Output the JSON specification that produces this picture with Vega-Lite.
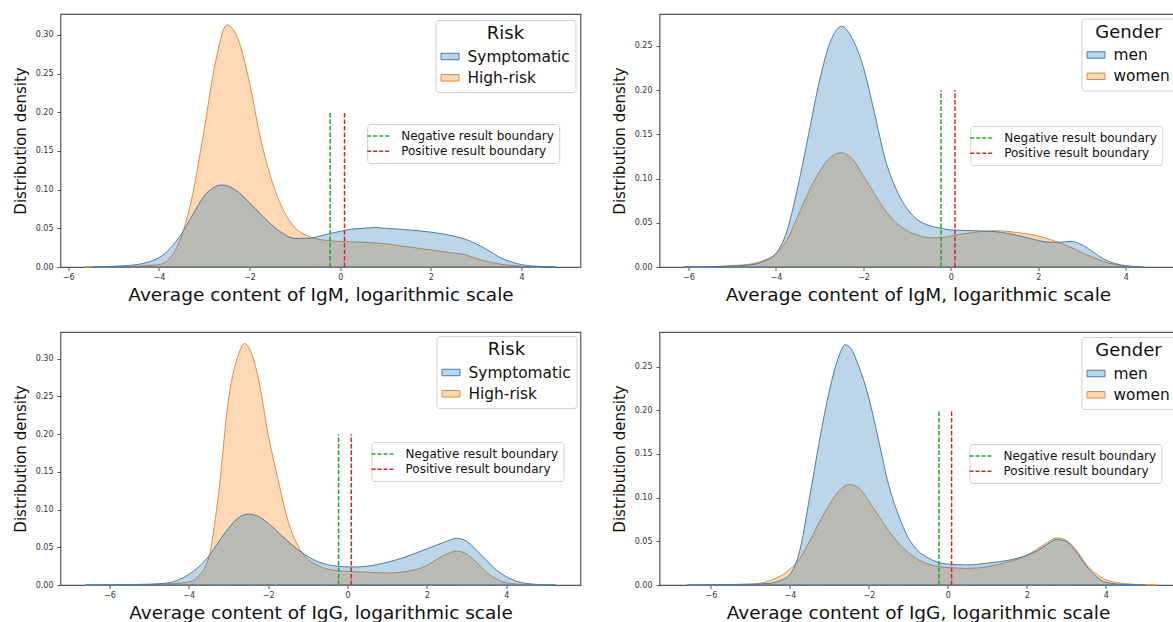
{
  "$schema": "https://vega.github.io/schema/vega-lite/v6.json",
  "background": "white",
  "padding": {"left": 11.5, "top": 13, "right": 0, "bottom": 0},
  "config": {
    "font": "DejaVu Sans",
    "view": {"stroke": "#555555", "strokeWidth": 1.2},
    "axis": {"grid": false, "domain": false, "tickColor": "#555555", "tickSize": 3.5, "tickWidth": 1, "labelFont": "DejaVu Sans", "labelFontSize": 8, "labelColor": "#333333", "titleFont": "DejaVu Sans", "titleFontWeight": "normal", "titleColor": "#111111"},
    "legend": {"labelFont": "DejaVu Sans", "titleFont": "DejaVu Sans", "labelColor": "#111111", "titleColor": "#111111", "strokeColor": "#d0d0d0", "fillColor": "white", "cornerRadius": 3}
  },
  "datasets": {
    "igm_risk": [
      {"group": "High-risk", "x": -5.65, "d": 0}, {"group": "High-risk", "x": -5.0, "d": 0.0005}, {"group": "High-risk", "x": -4.5, "d": 0.001}, {"group": "High-risk", "x": -4.25, "d": 0.002}, {"group": "High-risk", "x": -4.0, "d": 0.003}, {"group": "High-risk", "x": -3.75, "d": 0.012}, {"group": "High-risk", "x": -3.5, "d": 0.04}, {"group": "High-risk", "x": -3.25, "d": 0.095}, {"group": "High-risk", "x": -3.0, "d": 0.178}, {"group": "High-risk", "x": -2.75, "d": 0.265}, {"group": "High-risk", "x": -2.5, "d": 0.313}, {"group": "High-risk", "x": -2.25, "d": 0.294}, {"group": "High-risk", "x": -2.0, "d": 0.238}, {"group": "High-risk", "x": -1.75, "d": 0.164}, {"group": "High-risk", "x": -1.5, "d": 0.11}, {"group": "High-risk", "x": -1.25, "d": 0.073}, {"group": "High-risk", "x": -1.0, "d": 0.051}, {"group": "High-risk", "x": -0.75, "d": 0.041}, {"group": "High-risk", "x": -0.5, "d": 0.036}, {"group": "High-risk", "x": -0.25, "d": 0.034}, {"group": "High-risk", "x": 0.0, "d": 0.033}, {"group": "High-risk", "x": 0.5, "d": 0.032}, {"group": "High-risk", "x": 1.0, "d": 0.03}, {"group": "High-risk", "x": 1.5, "d": 0.026}, {"group": "High-risk", "x": 2.0, "d": 0.022}, {"group": "High-risk", "x": 2.5, "d": 0.018}, {"group": "High-risk", "x": 2.75, "d": 0.016}, {"group": "High-risk", "x": 3.0, "d": 0.011}, {"group": "High-risk", "x": 3.25, "d": 0.007}, {"group": "High-risk", "x": 3.5, "d": 0.004}, {"group": "High-risk", "x": 4.0, "d": 0.001}, {"group": "High-risk", "x": 4.5, "d": 0},
      {"group": "Symptomatic", "x": -5.5, "d": 0}, {"group": "Symptomatic", "x": -5.0, "d": 0.001}, {"group": "Symptomatic", "x": -4.5, "d": 0.003}, {"group": "Symptomatic", "x": -4.25, "d": 0.006}, {"group": "Symptomatic", "x": -4.0, "d": 0.012}, {"group": "Symptomatic", "x": -3.75, "d": 0.024}, {"group": "Symptomatic", "x": -3.5, "d": 0.043}, {"group": "Symptomatic", "x": -3.25, "d": 0.068}, {"group": "Symptomatic", "x": -3.0, "d": 0.092}, {"group": "Symptomatic", "x": -2.75, "d": 0.104}, {"group": "Symptomatic", "x": -2.6, "d": 0.106}, {"group": "Symptomatic", "x": -2.5, "d": 0.105}, {"group": "Symptomatic", "x": -2.25, "d": 0.097}, {"group": "Symptomatic", "x": -2.0, "d": 0.083}, {"group": "Symptomatic", "x": -1.75, "d": 0.068}, {"group": "Symptomatic", "x": -1.5, "d": 0.054}, {"group": "Symptomatic", "x": -1.25, "d": 0.043}, {"group": "Symptomatic", "x": -1.0, "d": 0.037}, {"group": "Symptomatic", "x": -0.75, "d": 0.037}, {"group": "Symptomatic", "x": -0.5, "d": 0.039}, {"group": "Symptomatic", "x": -0.25, "d": 0.043}, {"group": "Symptomatic", "x": 0.0, "d": 0.046}, {"group": "Symptomatic", "x": 0.25, "d": 0.049}, {"group": "Symptomatic", "x": 0.5, "d": 0.05}, {"group": "Symptomatic", "x": 0.75, "d": 0.051}, {"group": "Symptomatic", "x": 1.0, "d": 0.05}, {"group": "Symptomatic", "x": 1.5, "d": 0.048}, {"group": "Symptomatic", "x": 2.0, "d": 0.045}, {"group": "Symptomatic", "x": 2.5, "d": 0.04}, {"group": "Symptomatic", "x": 2.75, "d": 0.036}, {"group": "Symptomatic", "x": 3.0, "d": 0.03}, {"group": "Symptomatic", "x": 3.25, "d": 0.022}, {"group": "Symptomatic", "x": 3.5, "d": 0.013}, {"group": "Symptomatic", "x": 3.75, "d": 0.007}, {"group": "Symptomatic", "x": 4.0, "d": 0.003}, {"group": "Symptomatic", "x": 4.5, "d": 0.0005}, {"group": "Symptomatic", "x": 4.75, "d": 0}
    ],
    "igm_gender": [
      {"group": "women", "x": -6.1, "d": 0}, {"group": "women", "x": -5.5, "d": 0.0005}, {"group": "women", "x": -5.0, "d": 0.0015}, {"group": "women", "x": -4.5, "d": 0.004}, {"group": "women", "x": -4.25, "d": 0.008}, {"group": "women", "x": -4.0, "d": 0.015}, {"group": "women", "x": -3.75, "d": 0.03}, {"group": "women", "x": -3.5, "d": 0.057}, {"group": "women", "x": -3.25, "d": 0.085}, {"group": "women", "x": -3.0, "d": 0.108}, {"group": "women", "x": -2.75, "d": 0.124}, {"group": "women", "x": -2.5, "d": 0.129}, {"group": "women", "x": -2.25, "d": 0.122}, {"group": "women", "x": -2.0, "d": 0.103}, {"group": "women", "x": -1.75, "d": 0.083}, {"group": "women", "x": -1.5, "d": 0.064}, {"group": "women", "x": -1.25, "d": 0.05}, {"group": "women", "x": -1.0, "d": 0.041}, {"group": "women", "x": -0.75, "d": 0.036}, {"group": "women", "x": -0.5, "d": 0.033}, {"group": "women", "x": -0.25, "d": 0.033}, {"group": "women", "x": 0.0, "d": 0.035}, {"group": "women", "x": 0.5, "d": 0.039}, {"group": "women", "x": 1.0, "d": 0.041}, {"group": "women", "x": 1.5, "d": 0.039}, {"group": "women", "x": 2.0, "d": 0.035}, {"group": "women", "x": 2.5, "d": 0.027}, {"group": "women", "x": 2.75, "d": 0.022}, {"group": "women", "x": 3.0, "d": 0.016}, {"group": "women", "x": 3.25, "d": 0.011}, {"group": "women", "x": 3.5, "d": 0.006}, {"group": "women", "x": 3.75, "d": 0.003}, {"group": "women", "x": 4.0, "d": 0.001}, {"group": "women", "x": 4.4, "d": 0},
      {"group": "men", "x": -6.1, "d": 0}, {"group": "men", "x": -5.5, "d": 0.0003}, {"group": "men", "x": -5.0, "d": 0.001}, {"group": "men", "x": -4.5, "d": 0.003}, {"group": "men", "x": -4.25, "d": 0.007}, {"group": "men", "x": -4.0, "d": 0.015}, {"group": "men", "x": -3.75, "d": 0.04}, {"group": "men", "x": -3.5, "d": 0.09}, {"group": "men", "x": -3.25, "d": 0.15}, {"group": "men", "x": -3.0, "d": 0.211}, {"group": "men", "x": -2.75, "d": 0.255}, {"group": "men", "x": -2.5, "d": 0.272}, {"group": "men", "x": -2.25, "d": 0.258}, {"group": "men", "x": -2.0, "d": 0.226}, {"group": "men", "x": -1.75, "d": 0.175}, {"group": "men", "x": -1.5, "d": 0.122}, {"group": "men", "x": -1.25, "d": 0.088}, {"group": "men", "x": -1.0, "d": 0.066}, {"group": "men", "x": -0.75, "d": 0.053}, {"group": "men", "x": -0.5, "d": 0.047}, {"group": "men", "x": -0.25, "d": 0.044}, {"group": "men", "x": 0.0, "d": 0.042}, {"group": "men", "x": 0.5, "d": 0.041}, {"group": "men", "x": 1.0, "d": 0.04}, {"group": "men", "x": 1.5, "d": 0.036}, {"group": "men", "x": 2.0, "d": 0.03}, {"group": "men", "x": 2.25, "d": 0.028}, {"group": "men", "x": 2.5, "d": 0.028}, {"group": "men", "x": 2.75, "d": 0.029}, {"group": "men", "x": 3.0, "d": 0.025}, {"group": "men", "x": 3.25, "d": 0.017}, {"group": "men", "x": 3.5, "d": 0.009}, {"group": "men", "x": 3.75, "d": 0.004}, {"group": "men", "x": 4.0, "d": 0.0015}, {"group": "men", "x": 4.4, "d": 0}
    ],
    "igg_risk": [
      {"group": "High-risk", "x": -6.6, "d": 0}, {"group": "High-risk", "x": -6.0, "d": 0.0003}, {"group": "High-risk", "x": -5.0, "d": 0.0008}, {"group": "High-risk", "x": -4.5, "d": 0.0015}, {"group": "High-risk", "x": -4.0, "d": 0.004}, {"group": "High-risk", "x": -3.75, "d": 0.012}, {"group": "High-risk", "x": -3.5, "d": 0.035}, {"group": "High-risk", "x": -3.25, "d": 0.12}, {"group": "High-risk", "x": -3.0, "d": 0.245}, {"group": "High-risk", "x": -2.75, "d": 0.305}, {"group": "High-risk", "x": -2.6, "d": 0.32}, {"group": "High-risk", "x": -2.5, "d": 0.316}, {"group": "High-risk", "x": -2.25, "d": 0.275}, {"group": "High-risk", "x": -2.0, "d": 0.2}, {"group": "High-risk", "x": -1.75, "d": 0.14}, {"group": "High-risk", "x": -1.5, "d": 0.085}, {"group": "High-risk", "x": -1.25, "d": 0.052}, {"group": "High-risk", "x": -1.0, "d": 0.034}, {"group": "High-risk", "x": -0.75, "d": 0.026}, {"group": "High-risk", "x": -0.5, "d": 0.021}, {"group": "High-risk", "x": -0.25, "d": 0.019}, {"group": "High-risk", "x": 0.0, "d": 0.018}, {"group": "High-risk", "x": 0.5, "d": 0.017}, {"group": "High-risk", "x": 1.0, "d": 0.016}, {"group": "High-risk", "x": 1.5, "d": 0.018}, {"group": "High-risk", "x": 2.0, "d": 0.026}, {"group": "High-risk", "x": 2.25, "d": 0.034}, {"group": "High-risk", "x": 2.5, "d": 0.041}, {"group": "High-risk", "x": 2.75, "d": 0.045}, {"group": "High-risk", "x": 3.0, "d": 0.041}, {"group": "High-risk", "x": 3.25, "d": 0.03}, {"group": "High-risk", "x": 3.5, "d": 0.017}, {"group": "High-risk", "x": 3.75, "d": 0.008}, {"group": "High-risk", "x": 4.0, "d": 0.003}, {"group": "High-risk", "x": 4.5, "d": 0.0005}, {"group": "High-risk", "x": 5.0, "d": 0},
      {"group": "Symptomatic", "x": -6.6, "d": 0}, {"group": "Symptomatic", "x": -6.0, "d": 0.0003}, {"group": "Symptomatic", "x": -5.5, "d": 0.0006}, {"group": "Symptomatic", "x": -5.0, "d": 0.001}, {"group": "Symptomatic", "x": -4.5, "d": 0.003}, {"group": "Symptomatic", "x": -4.25, "d": 0.007}, {"group": "Symptomatic", "x": -4.0, "d": 0.014}, {"group": "Symptomatic", "x": -3.75, "d": 0.024}, {"group": "Symptomatic", "x": -3.5, "d": 0.038}, {"group": "Symptomatic", "x": -3.25, "d": 0.057}, {"group": "Symptomatic", "x": -3.0, "d": 0.075}, {"group": "Symptomatic", "x": -2.75, "d": 0.089}, {"group": "Symptomatic", "x": -2.5, "d": 0.094}, {"group": "Symptomatic", "x": -2.25, "d": 0.091}, {"group": "Symptomatic", "x": -2.0, "d": 0.082}, {"group": "Symptomatic", "x": -1.75, "d": 0.07}, {"group": "Symptomatic", "x": -1.5, "d": 0.058}, {"group": "Symptomatic", "x": -1.25, "d": 0.047}, {"group": "Symptomatic", "x": -1.0, "d": 0.038}, {"group": "Symptomatic", "x": -0.75, "d": 0.031}, {"group": "Symptomatic", "x": -0.5, "d": 0.027}, {"group": "Symptomatic", "x": -0.25, "d": 0.025}, {"group": "Symptomatic", "x": 0.0, "d": 0.024}, {"group": "Symptomatic", "x": 0.25, "d": 0.024}, {"group": "Symptomatic", "x": 0.5, "d": 0.025}, {"group": "Symptomatic", "x": 1.0, "d": 0.03}, {"group": "Symptomatic", "x": 1.5, "d": 0.038}, {"group": "Symptomatic", "x": 2.0, "d": 0.048}, {"group": "Symptomatic", "x": 2.25, "d": 0.053}, {"group": "Symptomatic", "x": 2.5, "d": 0.058}, {"group": "Symptomatic", "x": 2.75, "d": 0.062}, {"group": "Symptomatic", "x": 3.0, "d": 0.058}, {"group": "Symptomatic", "x": 3.25, "d": 0.046}, {"group": "Symptomatic", "x": 3.5, "d": 0.033}, {"group": "Symptomatic", "x": 3.75, "d": 0.02}, {"group": "Symptomatic", "x": 4.0, "d": 0.011}, {"group": "Symptomatic", "x": 4.25, "d": 0.005}, {"group": "Symptomatic", "x": 4.5, "d": 0.002}, {"group": "Symptomatic", "x": 5.0, "d": 0.0003}, {"group": "Symptomatic", "x": 5.25, "d": 0}
    ],
    "igg_gender": [
      {"group": "women", "x": -6.6, "d": 0}, {"group": "women", "x": -6.0, "d": 0.0003}, {"group": "women", "x": -5.0, "d": 0.001}, {"group": "women", "x": -4.5, "d": 0.005}, {"group": "women", "x": -4.25, "d": 0.01}, {"group": "women", "x": -4.0, "d": 0.018}, {"group": "women", "x": -3.75, "d": 0.03}, {"group": "women", "x": -3.5, "d": 0.05}, {"group": "women", "x": -3.25, "d": 0.072}, {"group": "women", "x": -3.0, "d": 0.092}, {"group": "women", "x": -2.75, "d": 0.108}, {"group": "women", "x": -2.5, "d": 0.115}, {"group": "women", "x": -2.25, "d": 0.111}, {"group": "women", "x": -2.0, "d": 0.096}, {"group": "women", "x": -1.75, "d": 0.079}, {"group": "women", "x": -1.5, "d": 0.062}, {"group": "women", "x": -1.25, "d": 0.048}, {"group": "women", "x": -1.0, "d": 0.037}, {"group": "women", "x": -0.75, "d": 0.029}, {"group": "women", "x": -0.5, "d": 0.024}, {"group": "women", "x": -0.25, "d": 0.021}, {"group": "women", "x": 0.0, "d": 0.02}, {"group": "women", "x": 0.5, "d": 0.019}, {"group": "women", "x": 1.0, "d": 0.021}, {"group": "women", "x": 1.5, "d": 0.026}, {"group": "women", "x": 2.0, "d": 0.034}, {"group": "women", "x": 2.25, "d": 0.041}, {"group": "women", "x": 2.5, "d": 0.048}, {"group": "women", "x": 2.75, "d": 0.054}, {"group": "women", "x": 3.0, "d": 0.051}, {"group": "women", "x": 3.25, "d": 0.04}, {"group": "women", "x": 3.5, "d": 0.024}, {"group": "women", "x": 3.75, "d": 0.013}, {"group": "women", "x": 4.0, "d": 0.006}, {"group": "women", "x": 4.5, "d": 0.0015}, {"group": "women", "x": 5.0, "d": 0.0003}, {"group": "women", "x": 5.3, "d": 0},
      {"group": "men", "x": -6.6, "d": 0}, {"group": "men", "x": -6.0, "d": 0.0003}, {"group": "men", "x": -5.0, "d": 0.0008}, {"group": "men", "x": -4.5, "d": 0.002}, {"group": "men", "x": -4.25, "d": 0.005}, {"group": "men", "x": -4.0, "d": 0.012}, {"group": "men", "x": -3.75, "d": 0.039}, {"group": "men", "x": -3.5, "d": 0.1}, {"group": "men", "x": -3.25, "d": 0.165}, {"group": "men", "x": -3.0, "d": 0.222}, {"group": "men", "x": -2.75, "d": 0.263}, {"group": "men", "x": -2.6, "d": 0.275}, {"group": "men", "x": -2.5, "d": 0.273}, {"group": "men", "x": -2.25, "d": 0.25}, {"group": "men", "x": -2.0, "d": 0.214}, {"group": "men", "x": -1.75, "d": 0.165}, {"group": "men", "x": -1.5, "d": 0.115}, {"group": "men", "x": -1.25, "d": 0.08}, {"group": "men", "x": -1.0, "d": 0.054}, {"group": "men", "x": -0.75, "d": 0.039}, {"group": "men", "x": -0.5, "d": 0.031}, {"group": "men", "x": -0.25, "d": 0.026}, {"group": "men", "x": 0.0, "d": 0.024}, {"group": "men", "x": 0.5, "d": 0.023}, {"group": "men", "x": 1.0, "d": 0.025}, {"group": "men", "x": 1.5, "d": 0.028}, {"group": "men", "x": 2.0, "d": 0.034}, {"group": "men", "x": 2.25, "d": 0.039}, {"group": "men", "x": 2.5, "d": 0.046}, {"group": "men", "x": 2.75, "d": 0.052}, {"group": "men", "x": 3.0, "d": 0.05}, {"group": "men", "x": 3.25, "d": 0.038}, {"group": "men", "x": 3.5, "d": 0.022}, {"group": "men", "x": 3.75, "d": 0.01}, {"group": "men", "x": 4.0, "d": 0.003}, {"group": "men", "x": 4.5, "d": 0.0005}, {"group": "men", "x": 5.0, "d": 0}
    ],
    "bounds": [
      {"boundary": "Negative result boundary", "x": -0.223},
      {"boundary": "Positive result boundary", "x": 0.095}
    ]
  },
  "columns": 2,
  "spacing": {"row": 65, "column": 79},
  "bounds": "flush",
  "resolve": {"scale": {"fill": "independent", "stroke": "independent"}, "legend": {"fill": "independent", "stroke": "independent"}},
  "concat": [
    {
      "width": 520, "height": 253,
      "resolve": {"scale": {"fill": "independent", "stroke": "independent"}, "legend": {"fill": "independent", "stroke": "independent"}},
      "layer": [
        {
          "layer": [
            {"data": {"name": "igm_risk"}, "transform": [{"filter": "datum.group == 'High-risk'"}],
             "mark": {"type": "area", "fillOpacity": 0.3, "strokeWidth": 1, "interpolate": "monotone"},
             "encoding": {
               "x": {"field": "x", "type": "quantitative", "title": "Average content of IgM, logarithmic scale", "scale": {"domain": [-6.17, 5.3], "nice": false, "zero": false}, "axis": {"values": [-6, -4, -2, 0, 2, 4], "format": "d", "labelPadding": 2.5, "titleFontSize": 18.5, "titleBaseline": "alphabetic", "titleY": 33.5}},
               "y": {"field": "d", "type": "quantitative", "title": "Distribution density", "scale": {"domain": [0, 0.327], "nice": false}, "axis": {"values": [0, 0.05, 0.1, 0.15, 0.2, 0.25, 0.3], "format": ".2f", "labelPadding": 4, "titleFontSize": 15, "titleBaseline": "alphabetic", "titleX": -35.5, "titleY": 126.5}},
               "fill": {"field": "group", "type": "nominal", "scale": {"domain": ["Symptomatic", "High-risk"], "range": ["#1f77b4", "#ff7f0e"]}, "legend": {"title": "Risk", "orient": "none", "legendX": 375, "legendY": 6, "titleFontSize": 18, "titleFontWeight": "normal", "titleAnchor": "middle", "titlePadding": 4, "labelFontSize": 15.4, "symbolType": "M-1,-0.36H1V0.36H-1Z", "symbolSize": 324, "symbolStrokeWidth": 1, "labelOffset": 8, "rowPadding": 3.3, "padding": 5, "encode": {"symbols": {"update": {"fillOpacity": {"value": 0.3}, "strokeOpacity": {"value": 1}}}}}},
               "stroke": {"field": "group", "type": "nominal", "scale": {"domain": ["Symptomatic", "High-risk"], "range": ["#4a7dab", "#df8c45"]}, "legend": {"title": "Risk", "orient": "none", "legendX": 375, "legendY": 6, "titleFontSize": 18, "titleFontWeight": "normal", "titleAnchor": "middle", "titlePadding": 4, "labelFontSize": 15.4, "symbolType": "M-1,-0.36H1V0.36H-1Z", "symbolSize": 324, "symbolStrokeWidth": 1, "labelOffset": 8, "rowPadding": 3.3, "padding": 5, "encode": {"symbols": {"update": {"fillOpacity": {"value": 0.3}, "strokeOpacity": {"value": 1}}}}}}
             }},
            {"data": {"name": "igm_risk"}, "transform": [{"filter": "datum.group == 'Symptomatic'"}],
             "mark": {"type": "area", "fillOpacity": 0.3, "strokeWidth": 1, "interpolate": "monotone"},
             "encoding": {
               "x": {"field": "x", "type": "quantitative", "title": "Average content of IgM, logarithmic scale"},
               "y": {"field": "d", "type": "quantitative", "title": "Distribution density"},
               "fill": {"field": "group", "type": "nominal", "title": "Risk"},
               "stroke": {"field": "group", "type": "nominal", "title": "Risk"}
             }}
          ]
        },
        {"data": {"name": "bounds"},
         "mark": {"type": "rule", "strokeDash": [4.5, 2], "strokeWidth": 1.5},
         "encoding": {
           "x": {"field": "x", "type": "quantitative", "title": "Average content of IgM, logarithmic scale"},
           "y": {"datum": 0, "type": "quantitative", "title": "Distribution density"},
           "y2": {"datum": 0.2},
           "stroke": {"field": "boundary", "type": "nominal", "scale": {"domain": ["Negative result boundary", "Positive result boundary"], "range": ["#2ca02c", "#d62728"]}, "legend": {"title": null, "orient": "none", "legendX": 306.7, "legendY": 110, "labelFontSize": 12, "symbolType": "M-2,0H2", "symbolSize": 144, "symbolStrokeWidth": 1.5, "symbolDash": [4, 2], "labelOffset": 15, "rowPadding": 2.2, "padding": 5}}
         }}
      ]
    },
    {
      "width": 517, "height": 253,
      "resolve": {"scale": {"fill": "independent", "stroke": "independent"}, "legend": {"fill": "independent", "stroke": "independent"}},
      "layer": [
        {
          "layer": [
            {"data": {"name": "igm_gender"}, "transform": [{"filter": "datum.group == 'women'"}],
             "mark": {"type": "area", "fillOpacity": 0.3, "strokeWidth": 1, "interpolate": "monotone"},
             "encoding": {
               "x": {"field": "x", "type": "quantitative", "title": "Average content of IgM, logarithmic scale", "scale": {"domain": [-6.66, 5.16], "nice": false, "zero": false}, "axis": {"values": [-6, -4, -2, 0, 2, 4], "format": "d", "labelPadding": 2.5, "titleFontSize": 18.5, "titleBaseline": "alphabetic", "titleY": 33.5}},
               "y": {"field": "d", "type": "quantitative", "title": "Distribution density", "scale": {"domain": [0, 0.286], "nice": false}, "axis": {"values": [0, 0.05, 0.1, 0.15, 0.2, 0.25], "format": ".2f", "labelPadding": 4, "titleFontSize": 15, "titleBaseline": "alphabetic", "titleX": -35.5, "titleY": 126.5}},
               "fill": {"field": "group", "type": "nominal", "scale": {"domain": ["men", "women"], "range": ["#1f77b4", "#ff7f0e"]}, "legend": {"title": "Gender", "orient": "none", "legendX": 422, "legendY": 4.5, "titleFontSize": 18, "titleFontWeight": "normal", "titleAnchor": "middle", "titlePadding": 4, "labelFontSize": 15.4, "symbolType": "M-1,-0.36H1V0.36H-1Z", "symbolSize": 324, "symbolStrokeWidth": 1, "labelOffset": 8, "rowPadding": 3.3, "padding": 5, "encode": {"symbols": {"update": {"fillOpacity": {"value": 0.3}, "strokeOpacity": {"value": 1}}}}}},
               "stroke": {"field": "group", "type": "nominal", "scale": {"domain": ["men", "women"], "range": ["#4a7dab", "#df8c45"]}, "legend": {"title": "Gender", "orient": "none", "legendX": 422, "legendY": 4.5, "titleFontSize": 18, "titleFontWeight": "normal", "titleAnchor": "middle", "titlePadding": 4, "labelFontSize": 15.4, "symbolType": "M-1,-0.36H1V0.36H-1Z", "symbolSize": 324, "symbolStrokeWidth": 1, "labelOffset": 8, "rowPadding": 3.3, "padding": 5, "encode": {"symbols": {"update": {"fillOpacity": {"value": 0.3}, "strokeOpacity": {"value": 1}}}}}}
             }},
            {"data": {"name": "igm_gender"}, "transform": [{"filter": "datum.group == 'men'"}],
             "mark": {"type": "area", "fillOpacity": 0.3, "strokeWidth": 1, "interpolate": "monotone"},
             "encoding": {
               "x": {"field": "x", "type": "quantitative", "title": "Average content of IgM, logarithmic scale"},
               "y": {"field": "d", "type": "quantitative", "title": "Distribution density"},
               "fill": {"field": "group", "type": "nominal", "title": "Gender"},
               "stroke": {"field": "group", "type": "nominal", "title": "Gender"}
             }}
          ]
        },
        {"data": {"name": "bounds"},
         "mark": {"type": "rule", "strokeDash": [4.5, 2], "strokeWidth": 1.5},
         "encoding": {
           "x": {"field": "x", "type": "quantitative", "title": "Average content of IgM, logarithmic scale"},
           "y": {"datum": 0, "type": "quantitative", "title": "Distribution density"},
           "y2": {"datum": 0.2},
           "stroke": {"field": "boundary", "type": "nominal", "scale": {"domain": ["Negative result boundary", "Positive result boundary"], "range": ["#2ca02c", "#d62728"]}, "legend": {"title": null, "orient": "none", "legendX": 310.7, "legendY": 112, "labelFontSize": 12, "symbolType": "M-2,0H2", "symbolSize": 144, "symbolStrokeWidth": 1.5, "symbolDash": [4, 2], "labelOffset": 15, "rowPadding": 2.2, "padding": 5}}
         }}
      ]
    },
    {
      "width": 520, "height": 253,
      "resolve": {"scale": {"fill": "independent", "stroke": "independent"}, "legend": {"fill": "independent", "stroke": "independent"}},
      "layer": [
        {
          "layer": [
            {"data": {"name": "igg_risk"}, "transform": [{"filter": "datum.group == 'High-risk'"}],
             "mark": {"type": "area", "fillOpacity": 0.3, "strokeWidth": 1, "interpolate": "monotone"},
             "encoding": {
               "x": {"field": "x", "type": "quantitative", "title": "Average content of IgG, logarithmic scale", "scale": {"domain": [-7.23, 5.87], "nice": false, "zero": false}, "axis": {"values": [-6, -4, -2, 0, 2, 4], "format": "d", "labelPadding": 2.5, "titleFontSize": 18.5, "titleBaseline": "alphabetic", "titleY": 33.5}},
               "y": {"field": "d", "type": "quantitative", "title": "Distribution density", "scale": {"domain": [0, 0.3354], "nice": false}, "axis": {"values": [0, 0.05, 0.1, 0.15, 0.2, 0.25, 0.3], "format": ".2f", "labelPadding": 4, "titleFontSize": 15, "titleBaseline": "alphabetic", "titleX": -35.5, "titleY": 126.5}},
               "fill": {"field": "group", "type": "nominal", "scale": {"domain": ["Symptomatic", "High-risk"], "range": ["#1f77b4", "#ff7f0e"]}, "legend": {"title": "Risk", "orient": "none", "legendX": 376, "legendY": 4, "titleFontSize": 18, "titleFontWeight": "normal", "titleAnchor": "middle", "titlePadding": 4, "labelFontSize": 15.4, "symbolType": "M-1,-0.36H1V0.36H-1Z", "symbolSize": 324, "symbolStrokeWidth": 1, "labelOffset": 8, "rowPadding": 3.3, "padding": 5, "encode": {"symbols": {"update": {"fillOpacity": {"value": 0.3}, "strokeOpacity": {"value": 1}}}}}},
               "stroke": {"field": "group", "type": "nominal", "scale": {"domain": ["Symptomatic", "High-risk"], "range": ["#4a7dab", "#df8c45"]}, "legend": {"title": "Risk", "orient": "none", "legendX": 376, "legendY": 4, "titleFontSize": 18, "titleFontWeight": "normal", "titleAnchor": "middle", "titlePadding": 4, "labelFontSize": 15.4, "symbolType": "M-1,-0.36H1V0.36H-1Z", "symbolSize": 324, "symbolStrokeWidth": 1, "labelOffset": 8, "rowPadding": 3.3, "padding": 5, "encode": {"symbols": {"update": {"fillOpacity": {"value": 0.3}, "strokeOpacity": {"value": 1}}}}}}
             }},
            {"data": {"name": "igg_risk"}, "transform": [{"filter": "datum.group == 'Symptomatic'"}],
             "mark": {"type": "area", "fillOpacity": 0.3, "strokeWidth": 1, "interpolate": "monotone"},
             "encoding": {
               "x": {"field": "x", "type": "quantitative", "title": "Average content of IgG, logarithmic scale"},
               "y": {"field": "d", "type": "quantitative", "title": "Distribution density"},
               "fill": {"field": "group", "type": "nominal", "title": "Risk"},
               "stroke": {"field": "group", "type": "nominal", "title": "Risk"}
             }}
          ]
        },
        {"data": {"name": "bounds"},
         "mark": {"type": "rule", "strokeDash": [4.5, 2], "strokeWidth": 1.5},
         "encoding": {
           "x": {"field": "x", "type": "quantitative", "title": "Average content of IgG, logarithmic scale"},
           "y": {"datum": 0, "type": "quantitative", "title": "Distribution density"},
           "y2": {"datum": 0.2},
           "stroke": {"field": "boundary", "type": "nominal", "scale": {"domain": ["Negative result boundary", "Positive result boundary"], "range": ["#2ca02c", "#d62728"]}, "legend": {"title": null, "orient": "none", "legendX": 311, "legendY": 110, "labelFontSize": 12, "symbolType": "M-2,0H2", "symbolSize": 144, "symbolStrokeWidth": 1.5, "symbolDash": [4, 2], "labelOffset": 15, "rowPadding": 2.2, "padding": 5}}
         }}
      ]
    },
    {
      "width": 517, "height": 253,
      "resolve": {"scale": {"fill": "independent", "stroke": "independent"}, "legend": {"fill": "independent", "stroke": "independent"}},
      "layer": [
        {
          "layer": [
            {"data": {"name": "igg_gender"}, "transform": [{"filter": "datum.group == 'women'"}],
             "mark": {"type": "area", "fillOpacity": 0.3, "strokeWidth": 1, "interpolate": "monotone"},
             "encoding": {
               "x": {"field": "x", "type": "quantitative", "title": "Average content of IgG, logarithmic scale", "scale": {"domain": [-7.3, 5.79], "nice": false, "zero": false}, "axis": {"values": [-6, -4, -2, 0, 2, 4], "format": "d", "labelPadding": 2.5, "titleFontSize": 18.5, "titleBaseline": "alphabetic", "titleY": 33.5}},
               "y": {"field": "d", "type": "quantitative", "title": "Distribution density", "scale": {"domain": [0, 0.2896], "nice": false}, "axis": {"values": [0, 0.05, 0.1, 0.15, 0.2, 0.25], "format": ".2f", "labelPadding": 4, "titleFontSize": 15, "titleBaseline": "alphabetic", "titleX": -35.5, "titleY": 126.5}},
               "fill": {"field": "group", "type": "nominal", "scale": {"domain": ["men", "women"], "range": ["#1f77b4", "#ff7f0e"]}, "legend": {"title": "Gender", "orient": "none", "legendX": 422, "legendY": 5, "titleFontSize": 18, "titleFontWeight": "normal", "titleAnchor": "middle", "titlePadding": 4, "labelFontSize": 15.4, "symbolType": "M-1,-0.36H1V0.36H-1Z", "symbolSize": 324, "symbolStrokeWidth": 1, "labelOffset": 8, "rowPadding": 3.3, "padding": 5, "encode": {"symbols": {"update": {"fillOpacity": {"value": 0.3}, "strokeOpacity": {"value": 1}}}}}},
               "stroke": {"field": "group", "type": "nominal", "scale": {"domain": ["men", "women"], "range": ["#4a7dab", "#df8c45"]}, "legend": {"title": "Gender", "orient": "none", "legendX": 422, "legendY": 5, "titleFontSize": 18, "titleFontWeight": "normal", "titleAnchor": "middle", "titlePadding": 4, "labelFontSize": 15.4, "symbolType": "M-1,-0.36H1V0.36H-1Z", "symbolSize": 324, "symbolStrokeWidth": 1, "labelOffset": 8, "rowPadding": 3.3, "padding": 5, "encode": {"symbols": {"update": {"fillOpacity": {"value": 0.3}, "strokeOpacity": {"value": 1}}}}}}
             }},
            {"data": {"name": "igg_gender"}, "transform": [{"filter": "datum.group == 'men'"}],
             "mark": {"type": "area", "fillOpacity": 0.3, "strokeWidth": 1, "interpolate": "monotone"},
             "encoding": {
               "x": {"field": "x", "type": "quantitative", "title": "Average content of IgG, logarithmic scale"},
               "y": {"field": "d", "type": "quantitative", "title": "Distribution density"},
               "fill": {"field": "group", "type": "nominal", "title": "Gender"},
               "stroke": {"field": "group", "type": "nominal", "title": "Gender"}
             }}
          ]
        },
        {"data": {"name": "bounds"},
         "mark": {"type": "rule", "strokeDash": [4.5, 2], "strokeWidth": 1.5},
         "encoding": {
           "x": {"field": "x", "type": "quantitative", "title": "Average content of IgG, logarithmic scale"},
           "y": {"datum": 0, "type": "quantitative", "title": "Distribution density"},
           "y2": {"datum": 0.2},
           "stroke": {"field": "boundary", "type": "nominal", "scale": {"domain": ["Negative result boundary", "Positive result boundary"], "range": ["#2ca02c", "#d62728"]}, "legend": {"title": null, "orient": "none", "legendX": 310, "legendY": 112, "labelFontSize": 12, "symbolType": "M-2,0H2", "symbolSize": 144, "symbolStrokeWidth": 1.5, "symbolDash": [4, 2], "labelOffset": 15, "rowPadding": 2.2, "padding": 5}}
         }}
      ]
    }
  ]
}
